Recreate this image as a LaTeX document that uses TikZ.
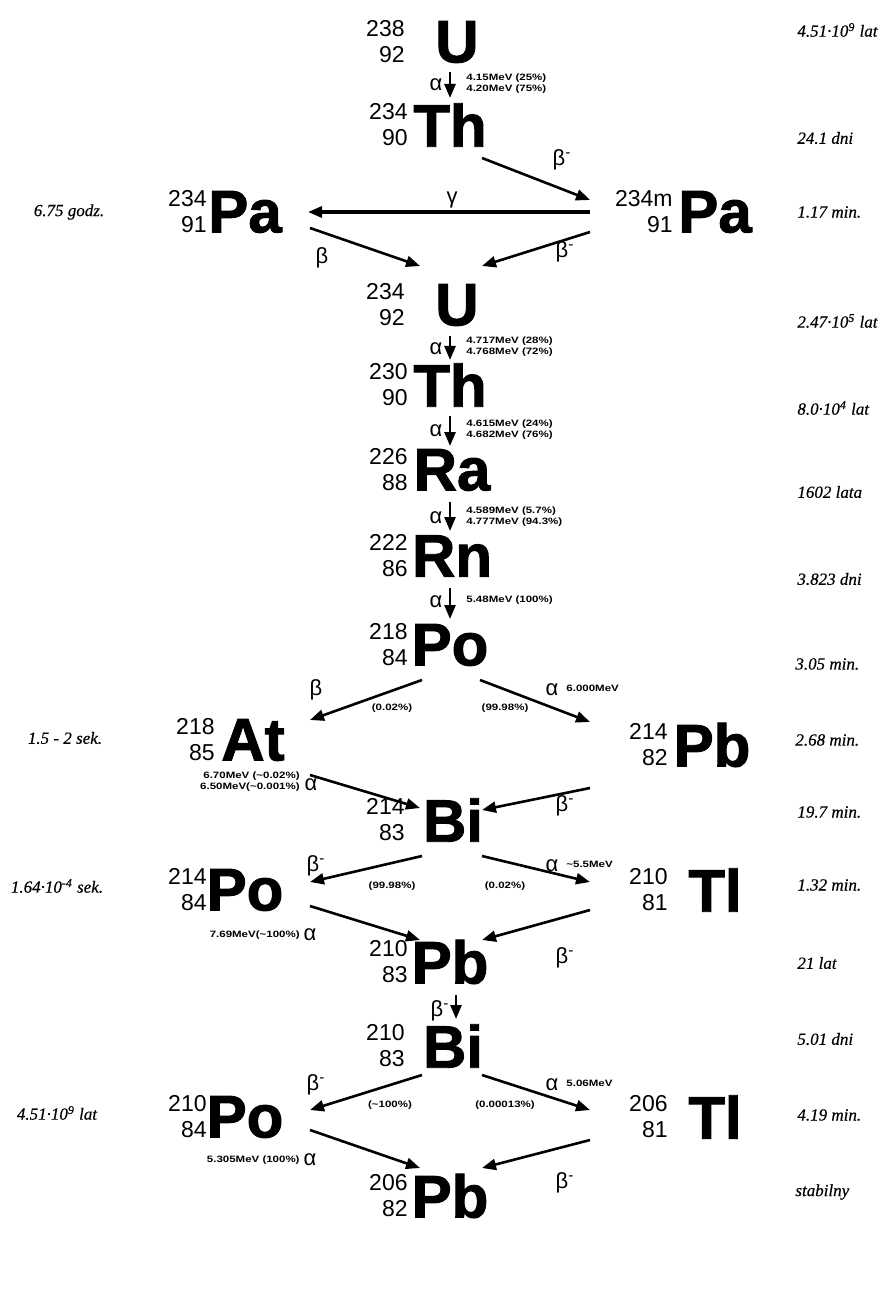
\documentclass[tikz,border=0pt]{standalone}
\usepackage{fontspec}
\setmainfont{Liberation Sans}
\newfontfamily\symfont[FakeBold=1.6]{Liberation Sans Bold}
\newfontfamily\numfont{Liberation Sans}
\newfontfamily\enfont[FakeStretch=1.25]{Liberation Sans Bold}
\newfontfamily\tfont[FakeBold=0.4]{Liberation Serif Italic}
\usetikzlibrary{arrows.meta,calc}

% one nuclide: name, x, y, right edge of the numbers, A, Z, symbol
\newcommand\nuclide[7]{%
  \node[sym] (#1) at (#2,#3) {#7};
  \node[nums] (#1-az) at (#4,#3) {#5\\#6};
}
\newcommand\bm{β\textsuperscript{-}}

\begin{document}
\begin{tikzpicture}[x=0.5pt,y=-0.5pt,
  sym/.style={font=\symfont\fontsize{30}{30}\selectfont, inner sep=0pt},
  nums/.style={font=\numfont\fontsize{11.5}{13}\selectfont, align=right, inner sep=0pt, anchor=east},
  en/.style={font=\enfont\fontsize{4.6}{5.6}\selectfont, inner sep=0pt},
  half/.style={font=\tfont\fontsize{8.5}{10}\selectfont, inner sep=0pt},
  gr/.style={font=\numfont\fontsize{11}{11}\selectfont, inner sep=0pt},
  arr/.style={line width=1.3pt, -{Triangle[length=7pt,width=5.5pt]}}]

\fill[white] (0,0) rectangle (889,1294);
\useasboundingbox (0,0) rectangle (889,1294);

% ---- nuclides
\nuclide{u238}{457}{42}{405}{238}{92}{U}
\nuclide{th234}{450}{125}{408}{234}{90}{Th}
\nuclide{pa234}{245}{212}{207}{234}{91}{Pa}
\nuclide{pa234m}{715}{212}{673}{234m}{91}{Pa}
\nuclide{u234}{457}{305}{405}{234}{92}{U}
\nuclide{th230}{450}{385}{408}{230}{90}{Th}
\nuclide{ra226}{452}{470}{408}{226}{88}{Ra}
\nuclide{rn222}{452}{556}{408}{222}{86}{Rn}
\nuclide{po218}{450}{645}{408}{218}{84}{Po}
\nuclide{at218}{253}{740}{215}{218}{85}{At}
\nuclide{pb214}{712}{745}{668}{214}{82}{Pb}
\nuclide{bi214}{453}{820}{405}{214}{83}{Bi}
\nuclide{po214}{245}{890}{207}{214}{84}{Po}
\nuclide{tl210}{715}{890}{668}{210}{81}{Tl}
\nuclide{pb210}{450}{962}{408}{210}{83}{Pb}
\nuclide{bi210}{453}{1046}{405}{210}{83}{Bi}
\nuclide{po210}{245}{1117}{207}{210}{84}{Po}
\nuclide{tl206}{715}{1117}{668}{206}{81}{Tl}
\nuclide{pb206}{450}{1196}{408}{206}{82}{Pb}

% ---- decays
\draw[arr] ($(u238)+(-7,30)$) -- ($(th234)+(0,-27)$);
\draw[arr] ($(th234)+(32,33)$) -- ($(pa234m)+(-125,-12)$);
\draw[arr, line width=1.6pt] ($(pa234m)+(-125,0)$) -- ($(pa234)+(63,0)$);
\draw[arr] ($(pa234)+(65,16)$) -- ($(u234)+(-37,-39)$);
\draw[arr] ($(pa234m)+(-125,20)$) -- ($(u234)+(25,-39)$);
\draw[arr] ($(u234)+(-7,31)$) -- ($(th230)+(0,-25)$);
\draw[arr] ($(th230)+(0,31)$) -- ($(ra226)+(-2,-24)$);
\draw[arr] ($(ra226)+(-2,32)$) -- ($(rn222)+(-2,-25)$);
\draw[arr] ($(rn222)+(-2,32)$) -- ($(po218)+(0,-26)$);
\draw[arr] ($(po218)+(-28,35)$) -- ($(at218)+(57,-20)$);
\draw[arr] ($(po218)+(30,35)$) -- ($(pb214)+(-122,-23)$);
\draw[arr] ($(at218)+(57,35)$) -- ($(bi214)+(-33,-12)$);
\draw[arr] ($(pb214)+(-122,43)$) -- ($(bi214)+(29,-10)$);
\draw[arr] ($(bi214)+(-31,36)$) -- ($(po214)+(65,-8)$);
\draw[arr] ($(bi214)+(29,36)$) -- ($(tl210)+(-125,-8)$);
\draw[arr] ($(po214)+(65,16)$) -- ($(pb210)+(-30,-22)$);
\draw[arr] ($(tl210)+(-125,20)$) -- ($(pb210)+(32,-22)$);
\draw[arr] ($(pb210)+(6,33)$) -- ($(bi210)+(3,-27)$);
\draw[arr] ($(bi210)+(-31,29)$) -- ($(po210)+(65,-7)$);
\draw[arr] ($(bi210)+(29,29)$) -- ($(tl206)+(-125,-7)$);
\draw[arr] ($(po210)+(65,13)$) -- ($(pb206)+(-30,-28)$);
\draw[arr] ($(tl206)+(-125,23)$) -- ($(pb206)+(32,-28)$);

% ---- decay labels
\node[gr] (l1) at (436,85) {α};
\node[en, anchor=west, align=left] (e1) at (466,84) {4.15MeV (25\%)\\4.20MeV (75\%)};
\node[gr] (l2) at (562,160) {\bm};
\node[gr] (l3) at (452,200) {γ};
\node[gr] (l4) at (322,258) {β};
\node[gr] (l5) at (565,252) {\bm};
\node[gr] (l6) at (436,349) {α};
\node[en, anchor=west, align=left] (e6) at (466,347) {4.717MeV (28\%)\\4.768MeV (72\%)};
\node[gr] (l7) at (436,431) {α};
\node[en, anchor=west, align=left] (e7) at (466,430) {4.615MeV (24\%)\\4.682MeV (76\%)};
\node[gr] (l8) at (436,518) {α};
\node[en, anchor=west, align=left] (e8) at (466,517) {4.589MeV (5.7\%)\\4.777MeV (94.3\%)};
\node[gr] (l9) at (436,602) {α};
\node[en, anchor=west] (e9) at (466,600) {5.48MeV (100\%)};

\node[gr] (l10) at (316,690) {β};
\node[en] (e10) at (392,708) {(0.02\%)};
\node[gr] (l11) at (552,690) {α};
\node[en, anchor=west] (e11) at (566,688) {6.000MeV};
\node[en] (p11) at (505,708) {(99.98\%)};
\node[en, anchor=east, align=right] (e12) at (300,782) {6.70MeV (\textasciitilde0.02\%)\\6.50MeV(\textasciitilde0.001\%)};
\node[gr] (l12) at (311,785) {α};
\node[gr] (l13) at (565,806) {\bm};

\node[gr] (l14) at (316,866) {\bm};
\node[en] (e14) at (392,886) {(99.98\%)};
\node[gr] (l15) at (552,866) {α};
\node[en, anchor=west] (e15) at (566,864) {\textasciitilde5.5MeV};
\node[en] (p15) at (505,886) {(0.02\%)};
\node[en, anchor=east] (e16) at (300,935) {7.69MeV(\textasciitilde100\%)};
\node[gr] (l16) at (310,935) {α};
\node[gr] (l17) at (565,958) {\bm};
\node[gr] (l18) at (440,1011) {\bm};

\node[gr] (l19) at (316,1085) {\bm};
\node[en] (e19) at (390,1105) {(\textasciitilde100\%)};
\node[gr] (l20) at (552,1085) {α};
\node[en, anchor=west] (e20) at (566,1083) {5.06MeV};
\node[en] (p20) at (505,1105) {(0.00013\%)};
\node[en, anchor=east] (e21) at (300,1160) {5.305MeV (100\%)};
\node[gr] (l21) at (310,1160) {α};
\node[gr] (l22) at (565,1183) {\bm};

% ---- half-lives, right column
\begin{scope}[every node/.style={half, anchor=west}]
\node (t1) at (797,30) {4.51·10\textsuperscript{9} lat};
\node (t2) at (797,138) {24.1 dni};
\node (t3) at (797,212) {1.17 min.};
\node (t4) at (797,321) {2.47·10\textsuperscript{5} lat};
\node (t5) at (797,408) {8.0·10\textsuperscript{4} lat};
\node (t6) at (797,492) {1602 lata};
\node (t7) at (797,579) {3.823 dni};
\node (t8) at (795,664) {3.05 min.};
\node (t9) at (795,740) {2.68 min.};
\node (t10) at (797,812) {19.7 min.};
\node (t11) at (797,885) {1.32 min.};
\node (t12) at (797,963) {21 lat};
\node (t13) at (797,1039) {5.01 dni};
\node (t14) at (797,1115) {4.19 min.};
\node (t15) at (795,1192) {stabilny};
\end{scope}

% ---- half-lives, left column
\begin{scope}[every node/.style={half}]
\node (s1) at (69,212) {6.75 godz.};
\node (s2) at (65,738) {1.5 - 2 sek.};
\node (s3) at (57,886) {1.64·10\textsuperscript{-4} sek.};
\node (s4) at (57,1113) {4.51·10\textsuperscript{9} lat};
\end{scope}
\end{tikzpicture}
\end{document}
